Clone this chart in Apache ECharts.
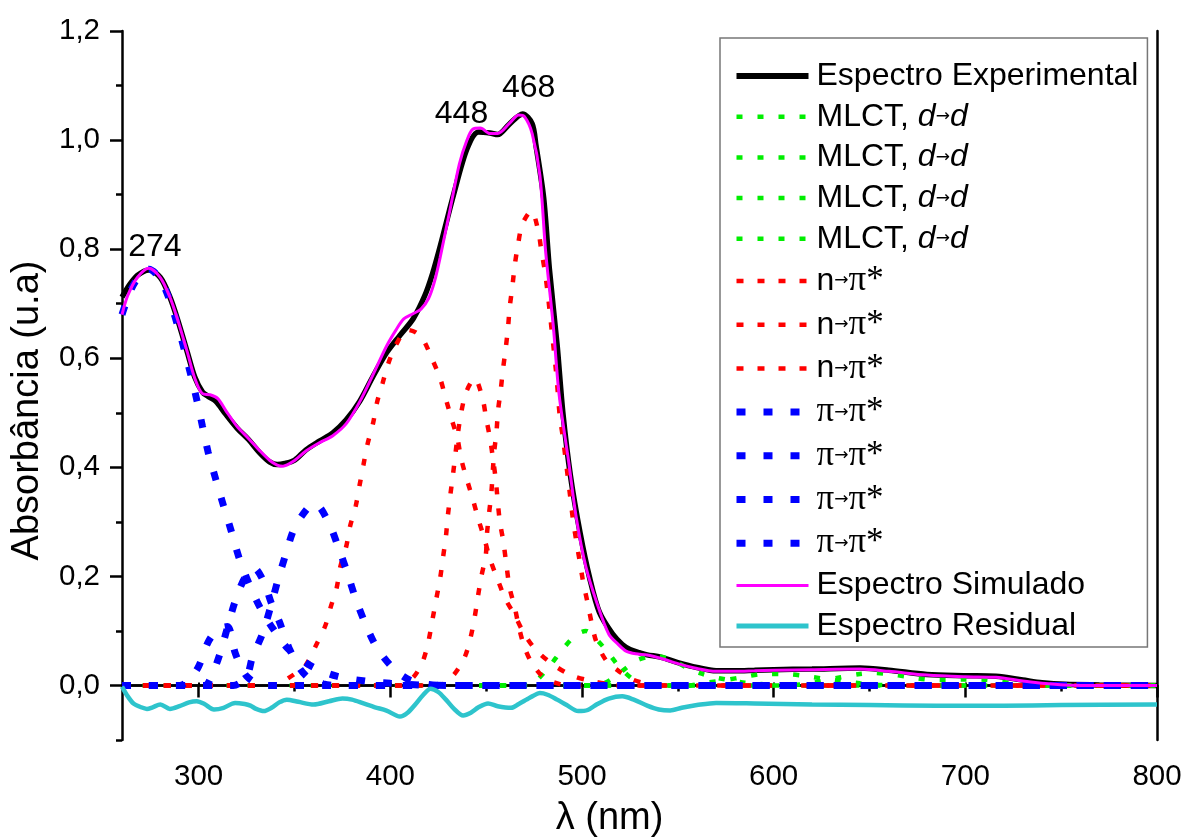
<!DOCTYPE html>
<html>
<head>
<meta charset="utf-8">
<script src="https://cdn.jsdelivr.net/npm/echarts@6/dist/echarts.min.js"></script>
<style>
  html, body { margin: 0; padding: 0; background: #fff; }
  #chart { width: 1184px; height: 837px; }
</style>
</head>
<body>
<div id="chart"></div>
<script>
// tick values
const xMajorTicks = [300, 400, 500, 600, 700, 800];
const xMinorTicks = [350, 450, 550, 650, 750];
const xTopTicks = [300, 350, 400, 450, 500, 550, 600, 650, 700, 750];
const yMajorTicks = [0, 0.2, 0.4, 0.6, 0.8, 1.0, 1.2];
const yMinorTicks = [-0.1, 0.1, 0.3, 0.5, 0.7, 0.9, 1.1];

// peak labels
const peakNames = ['274', '448', '468'];
const peakPoints = [[274, 0.763], [446, 1.02], [468, 1.046]];

// espectro experimental
const experimental = [[260,0.712],[264,0.735],[268,0.752],[274,0.762],[280,0.748],[285,0.712],[289,0.671],[294,0.612],[298,0.565],[302,0.538],[305,0.53],[309,0.521],[314,0.498],[320,0.472],[326,0.451],[332,0.426],[337,0.41],[341,0.405],[345,0.407],[350,0.413],[356,0.432],[363,0.448],[370,0.463],[377,0.487],[384,0.521],[391,0.567],[398,0.61],[405,0.642],[412,0.673],[418,0.715],[422,0.755],[426,0.805],[433,0.9],[440,0.984],[446,1.015],[452,1.013],[456,1.01],[462,1.029],[469,1.048],[474,1.03],[476,0.99],[480,0.894],[483,0.763],[487,0.625],[490,0.501],[494,0.384],[499,0.28],[504,0.197],[509,0.135],[516,0.094],[521,0.075],[525,0.066],[530,0.06],[534,0.056],[541,0.052],[550,0.042],[560,0.033],[570,0.027],[580,0.027],[590,0.028],[600,0.029],[620,0.03],[645,0.032],[660,0.028],[680,0.02],[700,0.018],[716,0.017],[730,0.01],[740,0.005],[752,0.002],[770,0.001],[800,0]];

// MLCT, d->d
const mlct1 = [[260,0],[472,0],[476,0.008],[483,0.035],[490,0.067],[497,0.093],[502,0.1],[506,0.09],[513,0.063],[520,0.032],[528,0.008],[535,0],[800,0]];
const mlct2 = [[260,0],[505,0],[512,0.005],[518,0.018],[523,0.032],[528,0.045],[534,0.052],[540,0.053],[548,0.045],[555,0.032],[562,0.022],[568,0.016],[575,0.011],[585,0.005],[600,0.001],[610,0],[800,0]];
const mlct3 = [[260,0],[555,0],[565,0.005],[575,0.01],[585,0.016],[595,0.021],[605,0.021],[615,0.018],[625,0.013],[635,0.008],[645,0.004],[655,0.001],[665,0],[800,0]];
const mlct4 = [[260,0],[605,0],[615,0.002],[625,0.008],[635,0.015],[645,0.021],[652,0.023],[660,0.021],[670,0.016],[680,0.011],[690,0.01],[700,0.011],[708,0.011],[716,0.008],[725,0.004],[735,0.001],[745,0],[800,0]];

// n -> pi*
const npi1 = [[260,0],[340,0],[347,0.014],[352,0.026],[356,0.038],[361,0.072],[366,0.109],[369,0.145],[372,0.179],[374,0.219],[377,0.255],[379,0.292],[382,0.33],[384,0.368],[386,0.405],[388,0.441],[391,0.481],[393,0.518],[396,0.555],[399,0.591],[403,0.625],[409,0.652],[413,0.648],[417,0.635],[422,0.597],[426,0.563],[429,0.525],[432,0.488],[435,0.453],[437,0.415],[440,0.377],[443,0.342],[446,0.304],[449,0.27],[452,0.232],[456,0.194],[460,0.159],[465,0.128],[470,0.094],[476,0.065],[485,0.038],[495,0.018],[505,0.008],[515,0.002],[525,0],[800,0]];
const npi2 = [[260,0],[405,0],[412,0.015],[417,0.045],[420,0.083],[422,0.121],[424,0.159],[426,0.197],[427.5,0.235],[429,0.273],[430,0.311],[431.3,0.349],[432.7,0.387],[435.3,0.463],[437,0.501],[439.7,0.539],[444,0.563],[448,0.528],[450,0.49],[452,0.453],[453.6,0.415],[455,0.377],[457,0.304],[459,0.263],[460.6,0.22],[462.3,0.178],[465,0.142],[467,0.108],[470,0.07],[474,0.04],[480,0.015],[488,0.003],[495,0],[800,0]];
const npi3 = [[260,0],[425,0],[432.7,0.018],[438.8,0.052],[441.8,0.087],[444,0.125],[445.7,0.163],[447.5,0.2],[449.8,0.239],[450.4,0.277],[451.5,0.315],[452.7,0.353],[454.1,0.425],[455.4,0.466],[456.2,0.504],[457.6,0.542],[458.8,0.58],[460.2,0.618],[461.4,0.656],[462.3,0.694],[463.7,0.732],[464.9,0.77],[466.6,0.808],[468.9,0.846],[473.6,0.87],[477.1,0.835],[478.8,0.797],[480.6,0.76],[482,0.722],[483.2,0.684],[486.6,0.57],[488.4,0.494],[490.1,0.453],[494,0.342],[495.3,0.304],[497.1,0.263],[498.8,0.228],[500.6,0.19],[502.9,0.152],[505,0.115],[507.5,0.08],[512.8,0.045],[519.7,0.025],[527,0.01],[535,0.003],[545,0],[800,0]];

// pi -> pi*
const pipi1 = [[260,0.68],[265,0.728],[270,0.755],[274,0.763],[280,0.745],[285,0.705],[290,0.648],[295,0.582],[299,0.524],[302,0.475],[305,0.427],[309,0.377],[313,0.329],[317,0.283],[321,0.235],[326,0.189],[332,0.143],[339,0.103],[347,0.066],[359,0.035],[372,0.017],[387,0.008],[400,0.004],[415,0.001],[430,0],[800,0]];
const pipi2 = [[260,0],[290,0],[295,0.01],[300,0.035],[305,0.08],[310,0.103],[315,0.108],[319,0.06],[322,0.035],[325,0.017],[330,0.004],[335,0],[800,0]];
const pipi3 = [[260,0],[303,0],[307,0.02],[311,0.057],[315,0.106],[319,0.154],[324,0.197],[329,0.215],[334,0.19],[338,0.15],[342,0.118],[347,0.07],[353,0.03],[358,0.012],[365,0.003],[372,0],[800,0]];
const pipi4 = [[260,0],[318,0],[325,0.017],[328,0.051],[333.5,0.097],[337.6,0.145],[341.4,0.194],[345.4,0.24],[350,0.289],[357.6,0.328],[361,0.332],[367.5,0.301],[372.7,0.255],[377.6,0.206],[382,0.158],[387,0.113],[393,0.069],[401.4,0.032],[410,0.01],[420,0.002],[428,0],[800,0]];

// espectro simulado
const simulated = [[260,0.68],[263,0.715],[268,0.748],[274,0.765],[280,0.748],[285,0.712],[289,0.671],[294,0.612],[298,0.563],[302,0.535],[306,0.533],[310,0.526],[314,0.505],[320,0.475],[326,0.453],[332,0.43],[337,0.413],[341,0.404],[344,0.402],[349,0.41],[356,0.43],[363,0.445],[370,0.458],[377,0.48],[384,0.52],[391,0.57],[398,0.622],[403,0.652],[407,0.672],[412,0.682],[416,0.69],[420,0.71],[423,0.74],[426,0.785],[431,0.87],[436,0.956],[440,1.0],[443,1.02],[447,1.022],[452,1.012],[456,1.012],[462,1.03],[467,1.046],[470,1.043],[474,1.012],[478,0.936],[481,0.797],[485,0.66],[488,0.535],[493,0.411],[497,0.308],[502,0.218],[508,0.149],[514,0.094],[519,0.075],[523,0.063],[528,0.058],[534,0.056],[541,0.05],[550,0.04],[560,0.031],[570,0.026],[580,0.026],[590,0.027],[600,0.028],[620,0.029],[645,0.03],[660,0.026],[680,0.019],[700,0.016],[716,0.015],[730,0.008],[740,0.004],[752,0.001],[770,0],[800,0]];

// espectro residual
const residual = [[260,-0.002],[263,-0.02],[266,-0.033],[270,-0.04],[273,-0.043],[276,-0.04],[280,-0.035],[285,-0.043],[290,-0.038],[295,-0.031],[299,-0.029],[303,-0.034],[308,-0.044],[313,-0.041],[319,-0.032],[324,-0.034],[327,-0.037],[330,-0.043],[334,-0.047],[338,-0.041],[342,-0.031],[346,-0.026],[352,-0.03],[360,-0.035],[368,-0.029],[375,-0.024],[380,-0.026],[386,-0.033],[392,-0.04],[398,-0.046],[405,-0.057],[409,-0.05],[413,-0.035],[417,-0.018],[421,-0.006],[425,-0.012],[429,-0.026],[433,-0.042],[438,-0.055],[442,-0.05],[446,-0.04],[451,-0.033],[456,-0.038],[463,-0.041],[467,-0.034],[471,-0.026],[474,-0.02],[478,-0.014],[482,-0.017],[487,-0.026],[492,-0.036],[498,-0.047],[503,-0.045],[508,-0.034],[514,-0.024],[521,-0.02],[527,-0.026],[534,-0.037],[540,-0.044],[546,-0.046],[552,-0.041],[560,-0.036],[570,-0.032],[590,-0.033],[620,-0.035],[650,-0.036],[685,-0.037],[720,-0.037],[750,-0.036],[800,-0.035]];

const chart = echarts.init(document.getElementById('chart'));

const FONT = '"Liberation Sans", Arial, sans-serif';
const mlctName = 'MLCT, d→d';
const npiName = 'n→π*';
const pipiName = 'π→π*';

// legend entries must have distinct names, so repeated ones get zero-width spaces
const uniq = (base, i) => base + '\u200b'.repeat(i);

const dotted = (name, data, color, width, dash) => ({
  name: name,
  type: 'line',
  data: data,
  showSymbol: false,
  symbol: 'none',
  smooth: 0.3,
  silent: true,
  lineStyle: { color: color, width: width, type: dash, cap: 'butt' },
  itemStyle: { color: color }
});

const series = [
  {
    name: 'Espectro Experimental', type: 'line', data: experimental,
    symbol: 'none', smooth: 0.3, silent: true,
    lineStyle: { color: '#000', width: 5.5 }, itemStyle: { color: '#000' }
  },
  dotted(uniq(mlctName, 0), mlct1, '#00ee00', 4.5, [6, 15]),
  dotted(uniq(mlctName, 1), mlct2, '#00ee00', 4.5, [6, 15]),
  dotted(uniq(mlctName, 2), mlct3, '#00ee00', 4.5, [6, 15]),
  dotted(uniq(mlctName, 3), mlct4, '#00ee00', 4.5, [6, 15]),
  dotted(uniq(npiName, 0), npi1, '#ff0000', 4.5, [7, 14]),
  dotted(uniq(npiName, 1), npi2, '#ff0000', 4.5, [7, 14]),
  dotted(uniq(npiName, 2), npi3, '#ff0000', 4.5, [7, 14]),
  dotted(uniq(pipiName, 0), pipi1, '#0000ff', 7, [9, 18]),
  dotted(uniq(pipiName, 1), pipi2, '#0000ff', 7, [9, 18]),
  dotted(uniq(pipiName, 2), pipi3, '#0000ff', 7, [9, 18]),
  dotted(uniq(pipiName, 3), pipi4, '#0000ff', 7, [9, 18]),
  {
    name: 'Espectro Simulado', type: 'line', data: simulated,
    symbol: 'none', smooth: 0.3, silent: true,
    lineStyle: { color: '#ff00ff', width: 3 }, itemStyle: { color: '#ff00ff' }
  },
  {
    name: 'Espectro Residual', type: 'line', data: residual,
    symbol: 'none', smooth: 0.3, silent: true,
    lineStyle: { color: '#2ec4cc', width: 4.5 }, itemStyle: { color: '#2ec4cc' }
  },
  {
    name: 'picos', type: 'scatter', silent: true,
    symbolSize: 1, itemStyle: { color: 'rgba(0,0,0,0)', opacity: 1 },
    data: peakPoints.map((p, i) => ({
      value: p,
      label: { offset: [[6, 0], [-17, 8], [8, -4]][i] }
    })),
    label: {
      show: true, position: 'top', distance: 6, opacity: 1,
      formatter: p => peakNames[p.dataIndex],
      fontFamily: FONT, fontSize: 32, color: '#000'
    }
  }
];

const legendWidths = [6, 4.5, 4.5, 4.5, 4.5, 4.5, 4.5, 4.5, 7, 7, 7, 7, 3, 5];
const legendData = series.slice(0, 14).map((s, i) => ({
  name: s.name,
  itemStyle: { opacity: 0 },
  lineStyle: { width: legendWidths[i] }
}));

const axisLine = { show: true, lineStyle: { color: '#000', width: 2.5 } };

chart.setOption({
  animation: false,
  backgroundColor: '#fff',
  grid: { left: 122, right: 27, top: 31, bottom: 97, containLabel: false, outerBoundsMode: 'none' },
  legend: {
    orient: 'vertical',
    left: 720, top: 38,
    padding: [22, 9, 5, 13],
    borderColor: '#777', borderWidth: 1.5,
    itemWidth: 72, itemHeight: 14, itemGap: 8.7,
    selectedMode: false,
    data: legendData,
    formatter: name => {
      const base = name.replace(/\u200b/g, '');
      if (base === mlctName) return 'MLCT, {i|d}{a|→}{i|d}';
      if (base === npiName) return 'n{a|→}{p|π*}';
      if (base === pipiName) return '{p|π}{a|→}{p|π*}';
      return base;
    },
    textStyle: {
      fontFamily: FONT, fontSize: 32, color: '#000', lineHeight: 32,
      padding: [0, 0, 0, 3],
      rich: {
        i: { fontFamily: FONT, fontSize: 32, fontStyle: 'italic', color: '#000', lineHeight: 32 },
        a: { fontFamily: '"DejaVu Sans", sans-serif', fontSize: 17, color: '#000', lineHeight: 32 },
        p: { fontFamily: '"Liberation Serif", serif', fontSize: 35, color: '#000', lineHeight: 32 }
      }
    }
  },
  xAxis: [
    {
      type: 'value', min: 260, max: 800, position: 'bottom',
      name: 'λ (nm)', nameLocation: 'middle', nameGap: 60,
      nameTextStyle: { fontFamily: FONT, fontSize: 38, color: '#000', padding: [0, 60, 0, 0] },
      axisLine: axisLine,
      axisTick: { show: true, inside: false, length: 12, customValues: xMajorTicks, lineStyle: { color: '#000', width: 2.5 } },
      axisLabel: { show: true, customValues: xMajorTicks, fontFamily: FONT, fontSize: 29.5, color: '#000', margin: 22 },
      splitLine: { show: false }
    },
    {
      type: 'value', min: 260, max: 800, position: 'bottom',
      axisLine: { show: false },
      axisTick: { show: true, inside: false, length: 6, customValues: xMinorTicks, lineStyle: { color: '#000', width: 2.5 } },
      axisLabel: { show: false },
      splitLine: { show: false }
    },
    {
      type: 'value', min: 260, max: 800, position: 'top',
      axisLine: axisLine,
      axisTick: { show: true, inside: false, length: 3, customValues: xTopTicks, lineStyle: { color: '#000', width: 2 } },
      axisLabel: { show: false },
      splitLine: { show: false }
    }
  ],
  yAxis: [
    {
      type: 'value', min: -0.1, max: 1.2, position: 'left',
      name: 'Absorbância (u.a)', nameLocation: 'middle', nameGap: 75,
      nameTextStyle: { fontFamily: FONT, fontSize: 38, color: '#000', padding: [0, 50, 0, 0] },
      axisLine: axisLine,
      axisTick: { show: true, inside: false, length: 12, customValues: yMajorTicks, lineStyle: { color: '#000', width: 2.5 } },
      axisLabel: {
        show: true, customValues: yMajorTicks, fontFamily: FONT, fontSize: 29.5, color: '#000', margin: 22,
        formatter: v => v.toFixed(1).replace('.', ',')
      },
      splitLine: { show: false }
    },
    {
      type: 'value', min: -0.1, max: 1.2, position: 'left',
      axisLine: { show: false },
      axisTick: { show: true, inside: false, length: 6, customValues: yMinorTicks, lineStyle: { color: '#000', width: 2.5 } },
      axisLabel: { show: false },
      splitLine: { show: false }
    },
    {
      type: 'value', min: -0.1, max: 1.2, position: 'right',
      axisLine: axisLine,
      axisTick: { show: false },
      axisLabel: { show: false },
      splitLine: { show: false }
    }
  ],
  series: series
});
</script>
</body>
</html>
